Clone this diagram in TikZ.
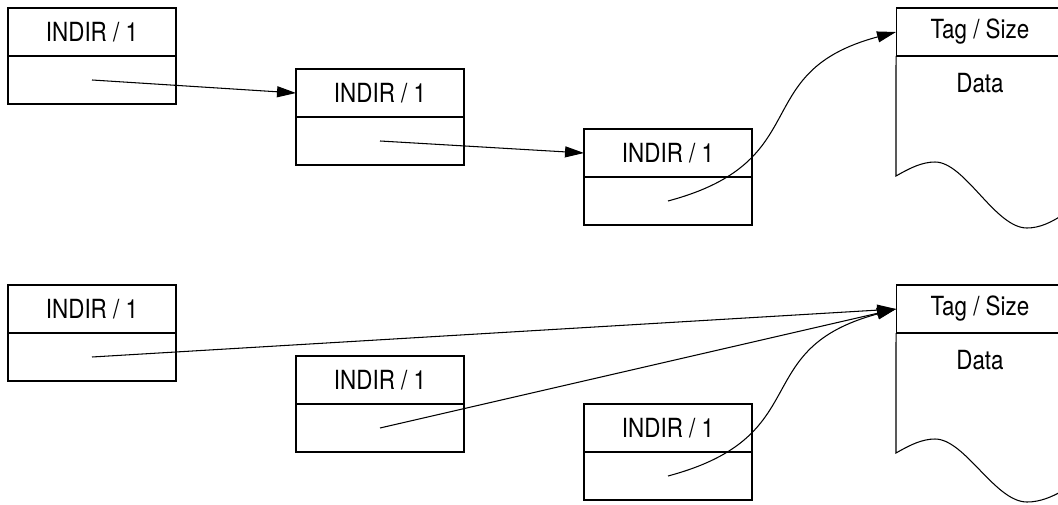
\documentclass[tikz,border=0pt]{standalone}
\usepackage{fontspec}
\setmainfont{TeX Gyre Heros}[FakeStretch=0.85]
\usetikzlibrary{positioning,arrows.meta}

\begin{document}
\begin{tikzpicture}[x=0.02cm,y=-0.02cm,line width=0.6pt,
	head/.style={draw,outer sep=0pt,inner sep=0pt,minimum width=3.36cm,minimum height=0.96cm,font=\fontsize{15}{18}\selectfont},
	body/.style={head,below=0pt of #1},
	ptr/.style={-{Triangle[length=0.38cm,width=0.22cm]}}]
	\useasboundingbox (0,0) rectangle (1058,504);
	\clip (0,0) rectangle (1058,504);
	% chain of indirections
	\node[head] (a1) at (92,32) {INDIR / 1};
	\node[body=a1] (a1b) {};
	\node[head] (a2) at (380,93) {INDIR / 1};
	\node[body=a2] (a2b) {};
	\node[head] (a3) at (668,153) {INDIR / 1};
	\node[body=a3] (a3b) {};
	\node[head] (t1) at (980,32) {Tag / Size};
	\node[font=\fontsize{15}{18}\selectfont] (d1) at (980,83) {Data};
	\draw (t1.south west) -- (896,176) .. controls (910,168) and (922,162) .. (935,162)
		.. controls (965,162) and (995,228) .. (1027,228)
		.. controls (1040,228) and (1052,222) .. (1064,214) -- (t1.south east);
	\draw[ptr] (a1b.center) -- (a2.west);
	\draw[ptr] (a2b.center) -- (a3.west);
	\draw[ptr] (a3b.center) .. controls +(150,-40) and +(-150,40) .. (t1.west);
	% all pointing at the same object
	\node[head] (b1) at (92,309) {INDIR / 1};
	\node[body=b1] (b1b) {};
	\node[head] (b2) at (380,380) {INDIR / 1};
	\node[body=b2] (b2b) {};
	\node[head] (b3) at (668,428) {INDIR / 1};
	\node[body=b3] (b3b) {};
	\node[head] (t2) at (980,309) {Tag / Size};
	\node[font=\fontsize{15}{18}\selectfont] (d2) at (980,360) {Data};
	\draw (t2.south west) -- (896,453) .. controls (910,445) and (922,439) .. (935,439)
		.. controls (965,439) and (995,502) .. (1027,502)
		.. controls (1040,502) and (1052,497) .. (1064,490) -- (t2.south east);
	\draw[ptr] (b1b.center) -- (t2.west);
	\draw[ptr] (b2b.center) -- (t2.west);
	\draw[ptr] (b3b.center) .. controls +(150,-40) and +(-150,40) .. (t2.west);
\end{tikzpicture}
\end{document}
